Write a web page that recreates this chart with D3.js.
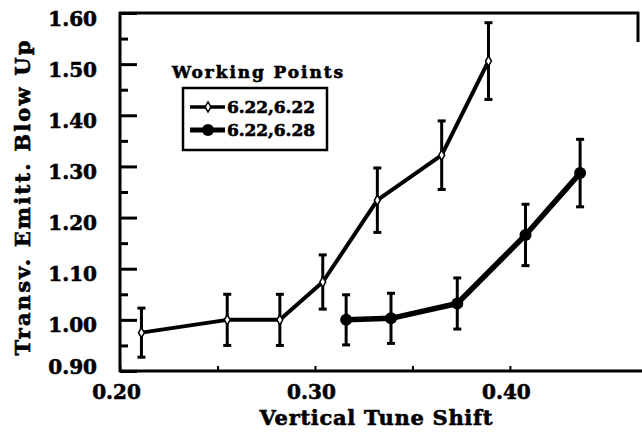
<!DOCTYPE html>
<html><head><meta charset="utf-8">
<script src="https://cdn.jsdelivr.net/npm/d3@7"></script>
<style>
html,body{margin:0;padding:0;background:#fff;}
svg{display:block;}
text{font-family:"DejaVu Serif",serif;font-weight:bold;fill:#000;stroke:#000;stroke-width:0.6px;}
</style></head>
<body>
<svg id="chart" width="642" height="433"></svg>
<script>
// ---- data ----
const seriesNames = ["6.22,6.22", "6.22,6.28"];
const s1x   = [0.211, 0.255, 0.282, 0.304, 0.332, 0.365, 0.389];
const s1y   = [0.975, 1.000, 1.000, 1.074, 1.234, 1.322, 1.506];
const s1err = [0.048, 0.050, 0.050, 0.053, 0.063, 0.067, 0.075];
const s2x   = [0.316, 0.339, 0.373, 0.408, 0.436];
const s2y   = [1.000, 1.003, 1.032, 1.166, 1.287];
const s2err = [0.049, 0.049, 0.050, 0.060, 0.066];
const xMajor = [0.20, 0.30, 0.40];
const xMinor = [0.25, 0.35];
const yMajor = [0.90, 1.00, 1.10, 1.20, 1.30, 1.40, 1.50, 1.60];
const yMinor = [0.95, 1.05, 1.15, 1.25, 1.35, 1.45, 1.55];
const xTitle = "Vertical Tune Shift";
const yTitle = "Transv. Emitt. Blow Up";
const legendTitle = "Working Points";

const svg = d3.select("#chart");
const x = d3.scaleLinear().domain([0.20, 0.4657]).range([120, 638]);
const y = d3.scaleLinear().domain([0.90, 1.60]).range([371, 13]);

// frame
const frame = svg.append("g").attr("stroke", "#000").attr("stroke-width", 3).attr("fill", "none");
frame.append("line").attr("x1", 120).attr("x2", 120).attr("y1", 12).attr("y2", 372);
frame.append("line").attr("x1", 119).attr("x2", 642).attr("y1", 371).attr("y2", 371);
frame.append("line").attr("x1", 119).attr("x2", 639).attr("y1", 13).attr("y2", 13);
frame.append("line").attr("x1", 638).attr("x2", 638).attr("y1", 12).attr("y2", 42);

// y axis
const yAx = svg.append("g").attr("transform", "translate(120,0)")
  .call(d3.axisLeft(y).tickValues(yMajor).tickSize(-17).tickSizeOuter(0).tickPadding(23)
        .tickFormat(d3.format(".2f")));
yAx.select(".domain").remove();
yAx.selectAll("line").attr("stroke", "#000").attr("stroke-width", 3);
yAx.selectAll("text").attr("font-size", 20).attr("dy", "0.6em")
  .filter(d => d === 0.90).attr("dy", "0.1em");
const yAxm = svg.append("g").attr("transform", "translate(120,0)")
  .call(d3.axisLeft(y).tickValues(yMinor).tickSize(-8).tickSizeOuter(0).tickFormat(""));
yAxm.select(".domain").remove();
yAxm.selectAll("line").attr("stroke", "#000").attr("stroke-width", 3);

// x axis
const xAx = svg.append("g").attr("transform", "translate(0,371)")
  .call(d3.axisBottom(x).tickValues(xMajor).tickSize(-5).tickSizeOuter(0).tickPadding(14)
        .tickFormat(d3.format(".2f")));
xAx.select(".domain").remove();
xAx.selectAll("line").attr("stroke", "#000").attr("stroke-width", 2);
xAx.selectAll("text").attr("font-size", 20).attr("dx", "-4");
const xAxm = svg.append("g").attr("transform", "translate(0,371)")
  .call(d3.axisBottom(x).tickValues(xMinor).tickSize(-5).tickSizeOuter(0).tickFormat(""));
xAxm.select(".domain").remove();
xAxm.selectAll("line").attr("stroke", "#000").attr("stroke-width", 2);

// titles
svg.append("text").attr("x", 376).attr("y", 425).attr("text-anchor", "middle")
  .attr("font-size", 21).attr("textLength", 233).attr("lengthAdjust", "spacing").text(xTitle);
svg.append("text").attr("transform", "translate(30,198) rotate(-90)").attr("text-anchor", "middle")
  .attr("font-size", 21).attr("textLength", 315).attr("lengthAdjust", "spacing").text(yTitle);

// data
function drawSeries(xs, ys, es, lw, marker) {
  const pts = xs.map((v, i) => ({x: v, y: ys[i], e: es[i]}));
  const g = svg.append("g");
  const eb = g.append("g").attr("stroke", "#000").attr("stroke-width", 3);
  pts.forEach(p => {
    eb.append("line").attr("x1", x(p.x)).attr("x2", x(p.x)).attr("y1", y(p.y - p.e)).attr("y2", y(p.y + p.e));
    eb.append("line").attr("x1", x(p.x) - 4).attr("x2", x(p.x) + 4).attr("y1", y(p.y - p.e)).attr("y2", y(p.y - p.e));
    eb.append("line").attr("x1", x(p.x) - 4).attr("x2", x(p.x) + 4).attr("y1", y(p.y + p.e)).attr("y2", y(p.y + p.e));
  });
  g.append("path").datum(pts).attr("fill", "none").attr("stroke", "#000").attr("stroke-width", lw)
    .attr("stroke-linejoin", "round")
    .attr("d", d3.line().x(d => x(d.x)).y(d => y(d.y)));
  pts.forEach(p => marker(g, x(p.x), y(p.y)));
}
const openDiamond = (g, cx, cy) => g.append("path")
  .attr("d", d3.symbol(d3.symbolDiamond, 30)())
  .attr("transform", `translate(${cx},${cy})`).attr("fill", "#fff").attr("stroke", "#000").attr("stroke-width", 1.5);
const filledDot = (g, cx, cy) => g.append("circle").attr("cx", cx).attr("cy", cy).attr("r", 6).attr("fill", "#000");

drawSeries(s1x, s1y, s1err, 4, openDiamond);
drawSeries(s2x, s2y, s2err, 5.5, filledDot);

// legend
svg.append("text").attr("x", 172).attr("y", 78).attr("font-family", "DejaVu Sans").attr("font-size", 17)
  .attr("textLength", 171).attr("lengthAdjust", "spacing").text(legendTitle);
svg.append("rect").attr("x", 183).attr("y", 88).attr("width", 144).attr("height", 62)
  .attr("fill", "none").attr("stroke", "#000").attr("stroke-width", 2.5);
const legRows = [{name: seriesNames[0], yy: 107, lw: 3.5, m: openDiamond},
                 {name: seriesNames[1], yy: 130, lw: 5, m: filledDot}];
legRows.forEach(r => {
  svg.append("line").attr("x1", 190).attr("x2", 225).attr("y1", r.yy).attr("y2", r.yy)
    .attr("stroke", "#000").attr("stroke-width", r.lw);
  r.m(svg, 208, r.yy);
  svg.append("text").attr("x", 227).attr("y", r.yy + 6).attr("font-family", "DejaVu Sans").attr("font-size", 17)
    .attr("textLength", 88).attr("lengthAdjust", "spacing").text(r.name);
});
</script>
</body></html>
